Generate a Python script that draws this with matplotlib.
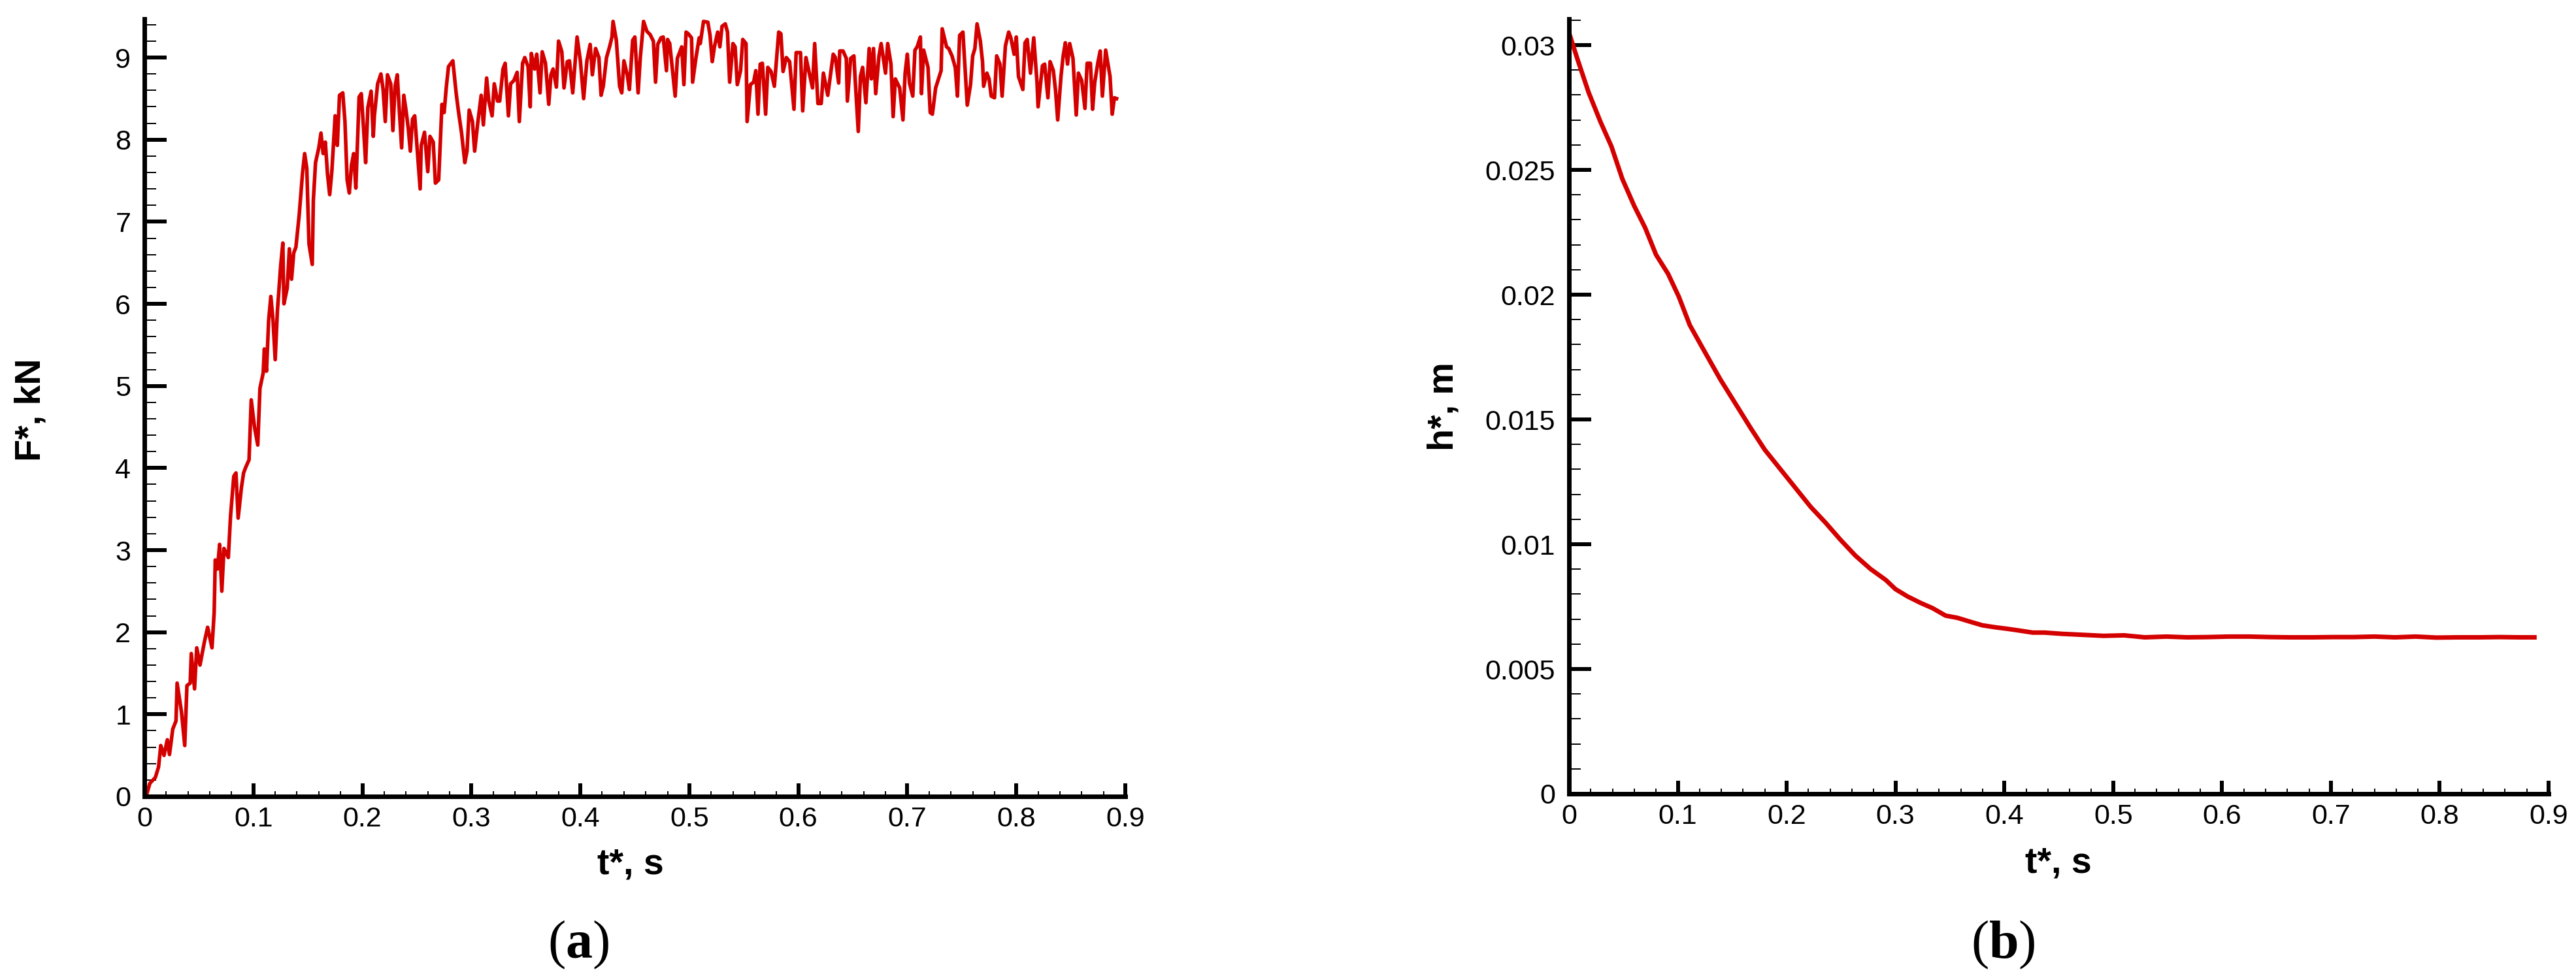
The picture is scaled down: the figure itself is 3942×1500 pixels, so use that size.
import matplotlib
matplotlib.use("Agg")
import matplotlib.pyplot as plt
from matplotlib.ticker import MultipleLocator, FuncFormatter

# (a) сила F*, кН от времени t*, с
t_force = [
    0.000, 0.002, 0.005, 0.010, 0.013, 0.015, 0.018, 0.021, 0.023, 0.026,
    0.029, 0.030, 0.034, 0.037, 0.039, 0.042, 0.043, 0.046, 0.048, 0.051,
    0.055, 0.058, 0.062, 0.064, 0.065, 0.067, 0.069, 0.071, 0.073, 0.077,
    0.079, 0.082, 0.084, 0.086, 0.089, 0.091, 0.093, 0.096, 0.098, 0.101,
    0.104, 0.106, 0.109, 0.110, 0.112, 0.114, 0.116, 0.118, 0.120, 0.122,
    0.125, 0.127, 0.128, 0.131, 0.133, 0.135, 0.137, 0.139, 0.142, 0.145,
    0.147, 0.149, 0.151, 0.154, 0.155, 0.157, 0.160, 0.162, 0.164, 0.166,
    0.168, 0.170, 0.172, 0.175, 0.177, 0.179, 0.182, 0.184, 0.186, 0.188,
    0.190, 0.192, 0.194, 0.197, 0.199, 0.201, 0.203, 0.205, 0.208, 0.210,
    0.211, 0.214, 0.217, 0.219, 0.221, 0.223, 0.226, 0.228, 0.230, 0.232,
    0.234, 0.236, 0.238, 0.240, 0.242, 0.244, 0.246, 0.248, 0.250, 0.253,
    0.254, 0.257, 0.260, 0.262, 0.265, 0.267, 0.270, 0.273, 0.275, 0.277,
    0.279, 0.283, 0.286, 0.288, 0.291, 0.294, 0.296, 0.298, 0.301, 0.303,
    0.306, 0.309, 0.311, 0.314, 0.316, 0.319, 0.321, 0.324, 0.326, 0.329,
    0.331, 0.334, 0.336, 0.339, 0.342, 0.344, 0.347, 0.349, 0.352, 0.354,
    0.355, 0.358, 0.360, 0.363, 0.365, 0.368, 0.371, 0.373, 0.375, 0.378,
    0.380, 0.383, 0.385, 0.388, 0.390, 0.393, 0.397, 0.400, 0.403, 0.406,
    0.409, 0.411, 0.414, 0.417, 0.419, 0.421, 0.424, 0.427, 0.429, 0.430,
    0.433, 0.436, 0.438, 0.440, 0.443, 0.445, 0.448, 0.450, 0.453, 0.455,
    0.458, 0.461, 0.464, 0.467, 0.469, 0.471, 0.474, 0.476, 0.479, 0.480,
    0.482, 0.487, 0.489, 0.491, 0.493, 0.495, 0.497, 0.499, 0.502, 0.503,
    0.506, 0.509, 0.510, 0.513, 0.517, 0.519, 0.521, 0.523, 0.526, 0.528,
    0.530, 0.533, 0.535, 0.537, 0.540, 0.542, 0.544, 0.547, 0.549, 0.552,
    0.553, 0.556, 0.559, 0.561, 0.563, 0.565, 0.567, 0.570, 0.572, 0.575,
    0.578, 0.582, 0.584, 0.586, 0.589, 0.592, 0.596, 0.598, 0.602, 0.604,
    0.607, 0.613, 0.615, 0.618, 0.621, 0.623, 0.627, 0.632, 0.634, 0.637,
    0.638, 0.641, 0.644, 0.645, 0.648, 0.651, 0.652, 0.655, 0.657, 0.659,
    0.662, 0.665, 0.667, 0.669, 0.671, 0.674, 0.676, 0.680, 0.682, 0.685,
    0.687, 0.689, 0.693, 0.696, 0.698, 0.700, 0.702, 0.705, 0.707, 0.709,
    0.712, 0.713, 0.715, 0.719, 0.721, 0.723, 0.726, 0.731, 0.732, 0.736,
    0.738, 0.741, 0.744, 0.746, 0.748, 0.751, 0.755, 0.758, 0.760, 0.762,
    0.764, 0.767, 0.769, 0.770, 0.773, 0.775, 0.777, 0.780, 0.782, 0.785,
    0.787, 0.790, 0.793, 0.795, 0.798, 0.800, 0.802, 0.806, 0.808, 0.810,
    0.813, 0.816, 0.819, 0.820, 0.824, 0.826, 0.829, 0.831, 0.834, 0.836,
    0.838, 0.841, 0.843, 0.845, 0.847, 0.849, 0.852, 0.855, 0.857, 0.860,
    0.863, 0.865, 0.868, 0.870, 0.872, 0.875, 0.877, 0.879, 0.882, 0.886,
    0.888, 0.890, 0.892,
]
f_force = [
    0.00, 0.02, 0.16, 0.23, 0.36, 0.62, 0.50, 0.69, 0.51, 0.82,
    0.92, 1.38, 1.03, 0.62, 1.35, 1.38, 1.74, 1.31, 1.81, 1.60,
    1.88, 2.06, 1.81, 2.24, 2.88, 2.77, 3.07, 2.50, 3.02, 2.91,
    3.41, 3.90, 3.94, 3.39, 3.76, 3.94, 4.01, 4.10, 4.83, 4.50,
    4.28, 4.97, 5.16, 5.45, 5.18, 5.80, 6.09, 5.80, 5.32, 5.91,
    6.46, 6.74, 6.00, 6.19, 6.67, 6.30, 6.62, 6.69, 7.08, 7.58,
    7.83, 7.65, 6.73, 6.48, 7.26, 7.72, 7.90, 8.08, 7.83, 7.97,
    7.58, 7.33, 7.62, 8.29, 7.93, 8.54, 8.57, 8.22, 7.51, 7.35,
    7.69, 7.83, 7.41, 8.52, 8.56, 8.15, 7.72, 8.39, 8.59, 8.04,
    8.29, 8.68, 8.80, 8.61, 8.22, 8.79, 8.68, 8.11, 8.65, 8.79,
    8.33, 7.90, 8.54, 8.36, 8.15, 7.86, 8.25, 8.29, 7.93, 7.40,
    7.93, 8.09, 7.61, 8.04, 7.97, 7.47, 7.51, 8.43, 8.33, 8.64,
    8.89, 8.96, 8.57, 8.36, 8.08, 7.72, 7.86, 8.36, 8.22, 7.86,
    8.22, 8.54, 8.18, 8.75, 8.47, 8.29, 8.68, 8.47, 8.47, 8.86,
    8.93, 8.29, 8.68, 8.72, 8.82, 8.22, 8.93, 9.00, 8.89, 8.40,
    9.05, 8.86, 9.04, 8.57, 9.07, 8.93, 8.43, 8.79, 8.86, 8.64,
    9.20, 9.07, 8.63, 8.95, 8.96, 8.57, 9.25, 8.96, 8.50, 8.96,
    9.16, 8.79, 9.11, 9.00, 8.54, 8.65, 9.00, 9.14, 9.25, 9.44,
    9.21, 8.65, 8.57, 8.96, 8.79, 8.61, 9.21, 9.25, 8.57, 9.00,
    9.44, 9.32, 9.28, 9.20, 8.70, 9.16, 9.24, 9.25, 8.84, 9.22,
    9.17, 8.53, 8.99, 9.06, 9.13, 8.67, 9.31, 9.29, 9.24, 8.70,
    8.99, 9.24, 9.17, 9.44, 9.43, 9.27, 8.95, 9.13, 9.31, 9.13,
    9.38, 9.41, 9.31, 8.70, 9.17, 9.13, 8.67, 8.84, 9.22, 9.17,
    8.22, 8.67, 8.70, 8.84, 8.31, 8.92, 8.93, 8.31, 8.88, 8.83,
    8.65, 9.31, 9.29, 8.83, 9.00, 8.95, 8.37, 9.06, 9.06, 8.35,
    9.00, 8.63, 9.17, 8.44, 8.44, 8.81, 8.54, 9.04, 9.00, 8.69,
    9.08, 9.08, 8.99, 8.47, 8.99, 9.02, 8.77, 8.10, 8.77, 8.88,
    8.45, 9.11, 8.74, 9.11, 8.56, 9.02, 9.17, 8.81, 9.17, 8.92,
    8.28, 8.74, 8.63, 8.24, 8.81, 9.04, 8.69, 8.53, 9.09, 9.13,
    9.25, 8.56, 9.09, 8.88, 8.33, 8.31, 8.63, 8.84, 9.35, 9.13,
    9.11, 9.02, 8.88, 8.53, 9.27, 9.31, 8.42, 8.67, 9.02, 9.11,
    9.41, 9.20, 8.95, 8.65, 8.81, 8.74, 8.53, 8.51, 9.02, 8.92,
    8.53, 9.14, 9.31, 9.24, 9.04, 9.25, 8.77, 8.61, 9.18, 9.22,
    8.81, 9.24, 8.70, 8.40, 8.90, 8.92, 8.51, 8.95, 8.84, 8.60,
    8.24, 8.77, 9.02, 9.18, 8.92, 9.17, 8.99, 8.30, 8.81, 8.72,
    8.38, 8.93, 8.93, 8.37, 8.70, 8.95, 9.08, 8.53, 9.09, 8.77,
    8.31, 8.51, 8.50,
]

# (b) высота h*, м от времени t*, с
t_height = [
    0.000, 0.008, 0.018, 0.029, 0.039, 0.049, 0.060, 0.070, 0.080, 0.091,
    0.101, 0.111, 0.125, 0.139, 0.153, 0.167, 0.180, 0.194, 0.208, 0.222,
    0.236, 0.249, 0.263, 0.277, 0.291, 0.300, 0.311, 0.323, 0.334, 0.346,
    0.357, 0.369, 0.380, 0.392, 0.403, 0.414, 0.426, 0.437, 0.453, 0.472,
    0.491, 0.510, 0.529, 0.549, 0.568, 0.587, 0.606, 0.625, 0.644, 0.663,
    0.683, 0.702, 0.721, 0.740, 0.759, 0.778, 0.797, 0.817, 0.836, 0.855,
    0.874, 0.887,
]
h_height = [
    0.0305, 0.02941, 0.02811, 0.02692, 0.02594, 0.02464, 0.02355, 0.02268, 0.02160, 0.02084,
    0.01991, 0.01878, 0.01769, 0.01661, 0.01563, 0.01465, 0.01378, 0.01302, 0.01226, 0.01150,
    0.01085, 0.01020, 0.00955, 0.00901, 0.00857, 0.00820, 0.00791, 0.00765, 0.00744, 0.00714,
    0.00705, 0.00689, 0.00675, 0.00667, 0.00661, 0.00654, 0.00646, 0.00646, 0.00641, 0.00637,
    0.00633, 0.00635, 0.00627, 0.00630, 0.00627, 0.00628, 0.00630, 0.00630, 0.00628, 0.00627,
    0.00627, 0.00628, 0.00628, 0.00630, 0.00627, 0.00630, 0.00626, 0.00627, 0.00627, 0.00628,
    0.00627, 0.00627,
]

x_label = "t*, s"
y_labels = ["F*, kN", "h*, m"]
captions = ["a", "b"]

RED = "#d40000"
W, H = 3942, 1500

plt.rcParams["font.family"] = ["Liberation Sans", "DejaVu Sans"]
plt.rcParams["mathtext.fontset"] = "custom"
plt.rcParams["mathtext.rm"] = "Liberation Serif"
plt.rcParams["mathtext.bf"] = "Liberation Serif:bold"

fig = plt.figure(figsize=(W / 100, H / 100), dpi=100)


# оси по пиксельным координатам (лево, верх, право, низ)
def add_axes_px(x0, y_top, x1, y_bot):
    return fig.add_axes([x0 / W, 1 - y_bot / H, (x1 - x0) / W, (y_bot - y_top) / H])


def style(ax, ymax, ymajor, yminor):
    for s in ["top", "right"]:
        ax.spines[s].set_visible(False)
    for s in ["left", "bottom"]:
        ax.spines[s].set_linewidth(5)
        ax.spines[s].set_zorder(3)
    ax.set_xlim(0, 0.9)
    ax.set_ylim(0, ymax)
    ax.xaxis.set_major_locator(MultipleLocator(0.1))
    ax.xaxis.set_minor_locator(MultipleLocator(0.02))
    ax.yaxis.set_major_locator(MultipleLocator(ymajor))
    ax.yaxis.set_minor_locator(MultipleLocator(yminor))
    fmt = FuncFormatter(lambda v, p: "%g" % round(v, 6))
    ax.xaxis.set_major_formatter(fmt)
    ax.yaxis.set_major_formatter(fmt)
    ax.tick_params(axis="both", which="both", direction="in", colors="black")
    ax.tick_params(axis="y", which="major", length=24.5, width=4.3, pad=15, labelsize=31)
    ax.tick_params(axis="y", which="minor", length=13, width=1.4)
    ax.tick_params(axis="x", which="major", length=14.5, width=4.3, pad=11, labelsize=31)
    ax.tick_params(axis="x", which="minor", length=6, width=1.4)


ax1 = add_axes_px(221, 29, 1722, 1219)
ax1.plot(t_force, f_force, color=RED, lw=4.0)
style(ax1, 9.47, 1, 0.2)

ax2 = add_axes_px(2401, 29, 3900, 1215)
ax2.plot(t_height, h_height, color=RED, lw=5.0)
style(ax2, 0.03105, 0.005, 0.001)

# подписи осей
lab = dict(fontsize=40, fontweight="bold")
fig.text(61 / W, 1 - 627 / H, y_labels[0], rotation=90, rotation_mode="anchor",
         ha="center", va="baseline", **lab)
fig.text(2223 / W, 1 - 622 / H, y_labels[1], rotation=90, rotation_mode="anchor",
         ha="center", va="baseline", **lab)
fig.text(965 / W, 1 - 1337 / H, x_label, ha="center", va="baseline", **lab)
fig.text(3150 / W, 1 - 1336 / H, x_label, ha="center", va="baseline", **lab)

# (a), (b)
for cx, c in zip([885, 3065], captions):
    fig.text(cx / W, 1 - 1466 / H, r"($\mathbf{%s}$)" % c, family="Liberation Serif",
             fontsize=59, ha="center", va="baseline")

fig.savefig("out.png", dpi=100)
